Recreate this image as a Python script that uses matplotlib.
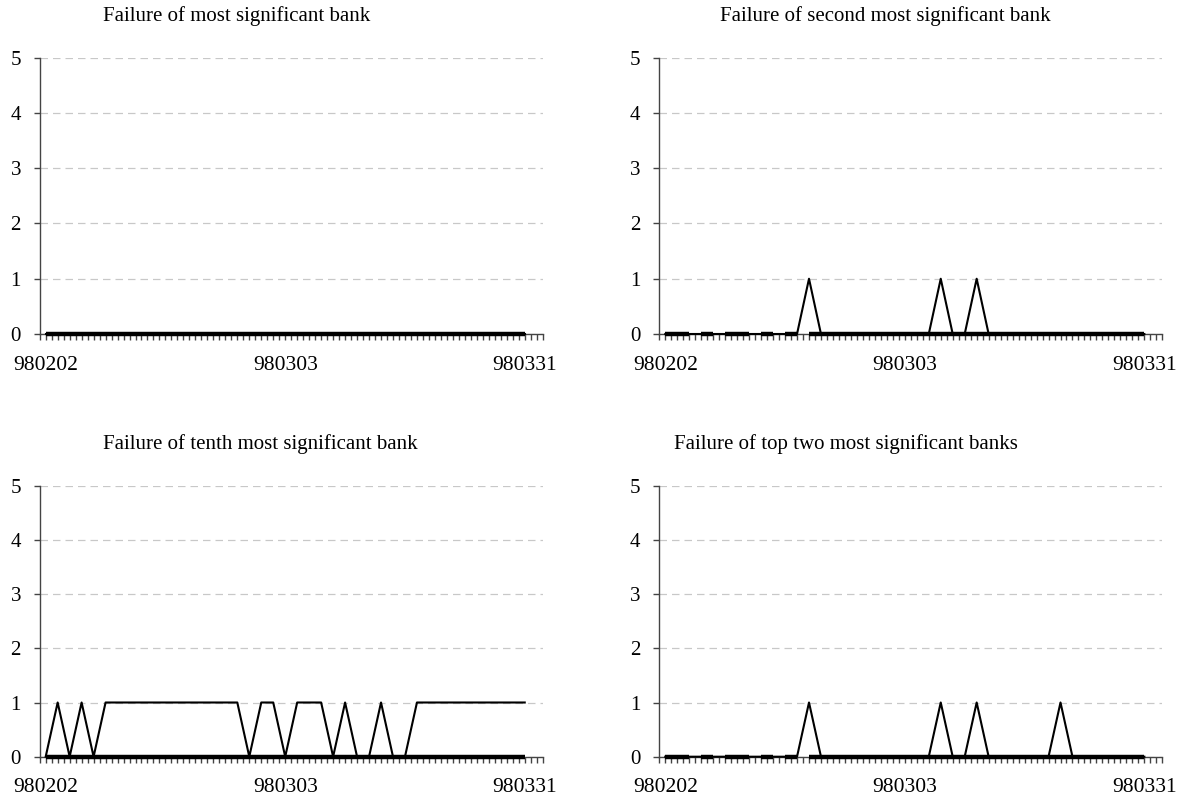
import numpy as np
import matplotlib
matplotlib.use("Agg")
import matplotlib.pyplot as plt

# trading-day index 0..40, labelled every 20 days
tick_pos = [0, 20, 40]
tick_labels = ["980202", "980303", "980331"]

titles = ["Failure of most significant bank",
          "Failure of second most significant bank",
          "Failure of tenth most significant bank",
          "Failure of top two most significant banks"]

most_sig = [0] * 41
second_sig = [0,0,0,0,0,0,0,0,0,0,0,0,1,0,0,0,0,0,0,0,
              0,0,0,1,0,0,1,0,0,0,0,0,0,0,0,0,0,0,0,0,0]
tenth_sig = [0,1,0,1,0,1,1,1,1,1,1,1,1,1,1,1,1,0,1,1,
             0,1,1,1,0,1,0,0,1,0,0,1,1,1,1,1,1,1,1,1,1]
top_two = [0,0,0,0,0,0,0,0,0,0,0,0,1,0,0,0,0,0,0,0,
           0,0,0,1,0,0,1,0,0,0,0,0,0,1,0,0,0,0,0,0,0]

# zero baseline series (heavy line); right-hand panels have a few gaps
base_gaps = [2.5, 4.5, 7.5, 9.5, 11.5]

series = [most_sig, second_sig, tenth_sig, top_two]
gapped = [False, True, False, True]

W, H = 1183, 800
boxes = [(39.7, 57.7, 334.0), (659.3, 57.7, 334.0),
         (39.7, 485.7, 756.7), (659.3, 485.7, 756.7)]
title_xy = [(103, 16), (720, 16), (103, 444), (674, 444)]
ax_w = 503

plt.rcParams['font.family'] = ['Liberation Serif', 'DejaVu Serif']

fig = plt.figure(figsize=(W / 100, H / 100), dpi=100)

for k in range(4):
    x0, ytop, ybot = boxes[k]
    ax = fig.add_axes([x0 / W, 1 - ybot / H, ax_w / W, (ybot - ytop) / H])

    x = np.arange(len(series[k]))
    xh = np.arange(0, len(series[k]) - 0.5, 0.5)
    base = np.zeros(len(xh))
    if gapped[k]:
        for g in base_gaps:
            base[np.isclose(xh, g)] = np.nan
    ax.plot(xh, base, color='black', lw=3.2, solid_capstyle='butt',
            zorder=3, clip_on=False)
    ax.plot(x, series[k], color='black', lw=1.5, zorder=4, clip_on=False)

    ax.set_xlim(-0.5, 41.5)
    ax.set_ylim(0, 5)
    ax.set_yticks(range(6))
    ax.set_xticks(tick_pos)
    ax.set_xticklabels(tick_labels)
    ax.set_xticks(np.arange(-0.5, 41.6, 0.5), minor=True)
    ax.yaxis.grid(True, color='#c8c8c8', linestyle=(0, (6, 4)), lw=0.9)
    ax.set_axisbelow(True)

    for s in ['top', 'right']:
        ax.spines[s].set_visible(False)
    for s in ['left', 'bottom']:
        ax.spines[s].set_color('#444444')
        ax.spines[s].set_linewidth(1.0)
    ax.tick_params(axis='both', which='both', direction='out', length=4.5,
                   width=1.0, color='#444444', labelsize=15)
    ax.tick_params(axis='x', which='major', pad=11, labelsize=15.5)
    ax.tick_params(axis='y', pad=9)

    fig.text(title_xy[k][0] / W, 1 - title_xy[k][1] / H, titles[k],
             ha='left', va='center', fontsize=15)

fig.savefig("out.png", dpi=100)
